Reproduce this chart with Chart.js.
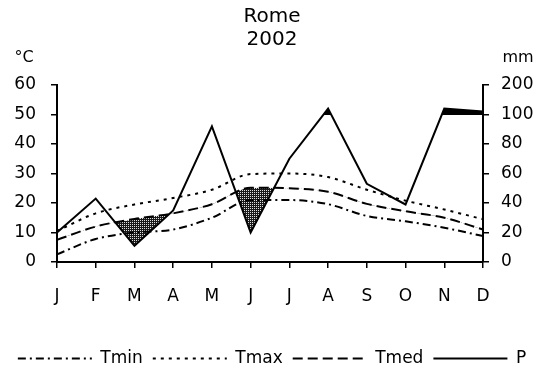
<!DOCTYPE html>
<html>
<head>
<meta charset="utf-8">
<script src="https://cdn.jsdelivr.net/npm/chart.js@4/dist/chart.umd.min.js"></script>
<style>
  html, body { margin: 0; padding: 0; background: #fff; }
</style>
</head>
<body>
<canvas id="climate" width="544" height="369"></canvas>
<script>
// values
var months = ['J', 'F', 'M', 'A', 'M', 'J', 'J', 'A', 'S', 'O', 'N', 'D'];
var tmin = [2.6, 7.8, 10, 11, 15, 21, 21, 19.6, 15.6, 13.8, 11.6, 8.8];
var tmax = [10.5, 16.5, 19.5, 21.7, 24.5, 29.8, 30, 28.8, 24.5, 20.8, 17.8, 14.5];
var tmed = [7.5, 12, 14.6, 16.5, 19.6, 25.2, 25, 23.8, 19.7, 17.2, 15, 11];
var precip = [20, 43, 11, 35, 92, 20, 70, 120, 53, 39, 120, 110];   // mm
var rainTicks = [0, 20, 40, 60, 80, 100, 200];

// Walter-Lieth scale: 10 C = 20 mm up to 100 mm, then 10 C = 100 mm
function mmToTemp(mm) {
    return mm <= 100 ? mm / 2 : 50 + (mm - 100) / 10;
}

function stipple() {
    var c = document.createElement('canvas');
    c.width = 2; c.height = 2;
    var g = c.getContext('2d');
    g.fillStyle = '#1a1a1a';
    g.fillRect(0, 0, 2, 2);
    g.fillStyle = '#e0e0e0';
    g.fillRect(0, 0, 1, 1);
    return g.createPattern(c, 'repeat');
}

var FONT = 'DejaVu Sans';
var pScaled = precip.map(mmToTemp);

// black area where P is over 100 mm (between the P line and the 100 mm level)
var wetFill = {
    id: 'wetFill',
    beforeDatasetsDraw: function(chart) {
        var ctx = chart.ctx, a = chart.chartArea;
        var xs = chart.scales.x, ys = chart.scales.y;
        var y100 = Math.round(ys.getPixelForValue(mmToTemp(100)));
        ctx.save();
        ctx.beginPath();
        ctx.rect(a.left, a.top - 5, a.right - a.left, y100 - a.top + 5);
        ctx.clip();
        ctx.beginPath();
        ctx.moveTo(xs.getPixelForValue(0), y100);
        pScaled.forEach(function(v, i) {
            ctx.lineTo(xs.getPixelForValue(i), ys.getPixelForValue(v));
        });
        ctx.lineTo(xs.getPixelForValue(pScaled.length - 1), y100);
        ctx.closePath();
        ctx.fillStyle = '#000';
        ctx.fill();
        ctx.restore();
    }
};

var unitLabels = {
    id: 'unitLabels',
    afterDraw: function(chart) {
        var ctx = chart.ctx, a = chart.chartArea;
        ctx.save();
        ctx.fillStyle = '#000';
        ctx.font = '16px ' + FONT;
        ctx.textAlign = 'center';
        ctx.textBaseline = 'middle';
        ctx.fillText('°C', a.left - 33, a.top - 27);
        ctx.fillText('mm', a.right + 35, a.top - 27);
        ctx.restore();
    }
};

var axisGrid = { drawOnChartArea: false, drawTicks: true, tickLength: 6, color: '#000', lineWidth: 1.5 };
var axisBorder = { display: true, color: '#000', width: 2 };

var ctx = document.getElementById('climate').getContext('2d');
var chart = new Chart(ctx, {
    type: 'line',
    data: {
        labels: months,
        datasets: [{
            label: 'Tmin',
            data: tmin,
            borderColor: '#000',
            borderWidth: 2,
            borderDash: [8, 4, 2, 4],
            pointRadius: 0,
            cubicInterpolationMode: 'monotone',
            fill: false
        }, {
            label: 'Tmax',
            data: tmax,
            borderColor: '#000',
            borderWidth: 2,
            borderDash: [3, 5],
            pointRadius: 0,
            cubicInterpolationMode: 'monotone',
            fill: false
        }, {
            label: 'Tmed',
            data: tmed,
            borderColor: '#000',
            borderWidth: 2,
            borderDash: [10, 5],
            pointRadius: 0,
            cubicInterpolationMode: 'monotone',
            fill: false
        }, {
            label: 'P',
            data: pScaled,
            borderColor: '#000',
            borderWidth: 2,
            pointRadius: 0,
            tension: 0,
            fill: { target: 2, above: 'rgba(0,0,0,0)', below: stipple() }
        }]
    },
    options: {
        responsive: false,
        animation: false,
        devicePixelRatio: 1,
        layout: { padding: { top: 0, bottom: -8, left: 0, right: 0 } },
        scales: {
            x: {
                offset: false,
                grid: axisGrid,
                border: axisBorder,
                ticks: { color: '#000', font: { family: FONT, size: 17 }, padding: 18, maxRotation: 0, autoSkip: false },
                afterFit: function(s) { s.height = 78; }
            },
            y: {
                position: 'left',
                min: 0, max: 60,
                grid: axisGrid,
                border: axisBorder,
                ticks: { stepSize: 10, color: '#000', font: { family: FONT, size: 17 }, padding: 15 },
                afterFit: function(s) { s.width = 57; }
            },
            y2: {
                position: 'right',
                min: 0, max: 60,
                grid: axisGrid,
                border: axisBorder,
                ticks: {
                    stepSize: 10, color: '#000', font: { family: FONT, size: 17 }, padding: 12,
                    callback: function(v, i) { return rainTicks[i]; }
                },
                afterFit: function(s) { s.width = 61; }
            }
        },
        plugins: {
            title: {
                display: true,
                text: ['Rome', '2002'],
                color: '#000',
                font: { family: FONT, size: 20, weight: 'normal', lineHeight: 1.15 },
                padding: { top: 5, bottom: 34 }
            },
            legend: {
                position: 'bottom',
                labels: {
                    usePointStyle: true,
                    pointStyle: 'line',
                    pointStyleWidth: 74,
                    color: '#000',
                    font: { family: FONT, size: 17 },
                    padding: 10,
                    generateLabels: function(chart) {
                        var items = Chart.defaults.plugins.legend.labels.generateLabels(chart);
                        items.forEach(function(it) {
                            var ds = chart.data.datasets[it.datasetIndex];
                            it.lineDash = ds.borderDash || [];
                            it.lineWidth = 2;
                            it.strokeStyle = '#000';
                        });
                        return items;
                    }
                }
            },
            tooltip: { enabled: false }
        }
    },
    plugins: [wetFill, unitLabels]
});
</script>
</body>
</html>
